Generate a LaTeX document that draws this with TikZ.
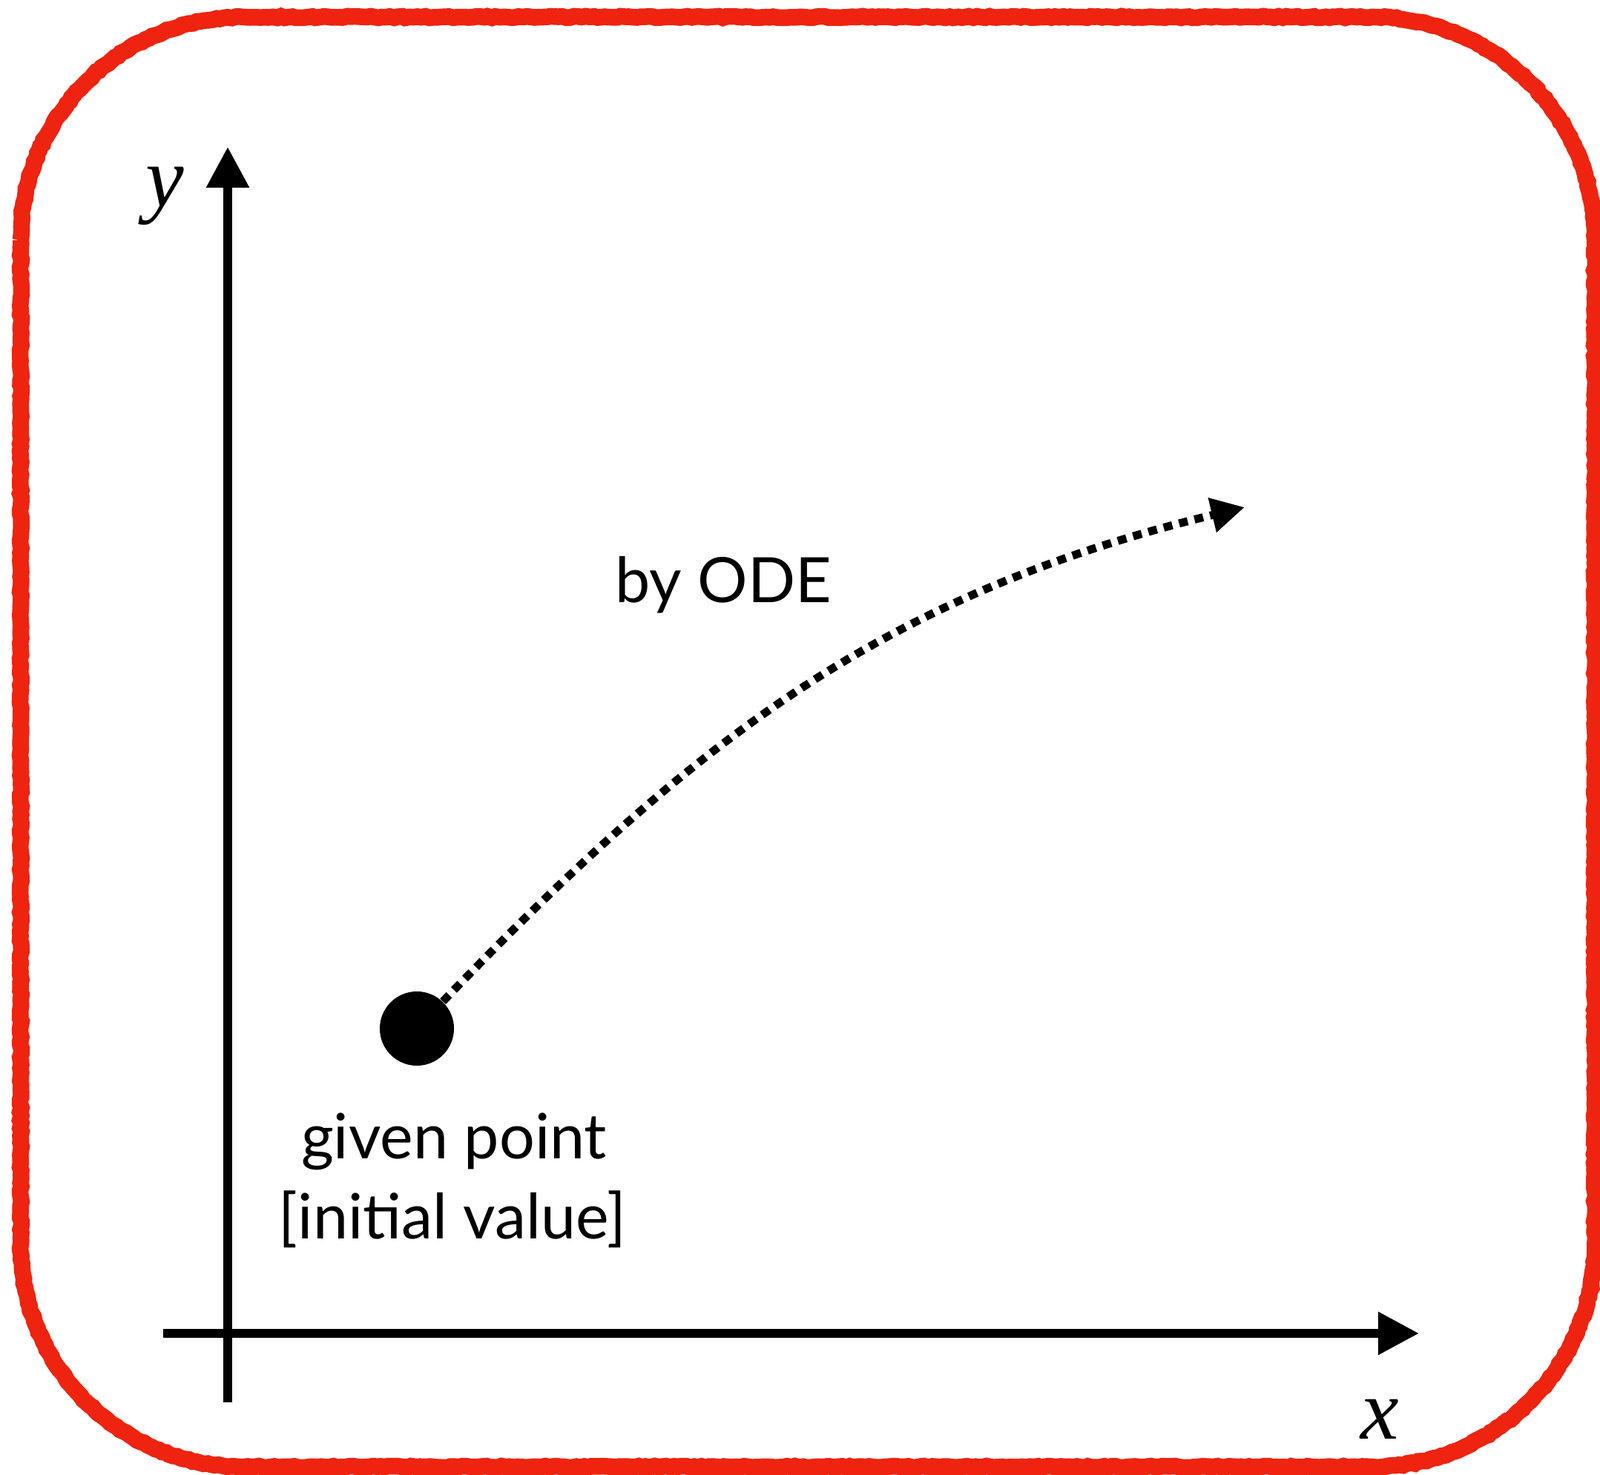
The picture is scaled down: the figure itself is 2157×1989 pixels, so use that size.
\documentclass[tikz,border=0pt]{standalone}
\usepackage{fontspec}
\setmainfont{Lato}
\newfontfamily\axisfont{Liberation Serif}
\usepackage{tikz}
\usetikzlibrary{positioning,calc,arrows.meta,decorations.pathmorphing}
\definecolor{sketchred}{RGB}{238,36,16}

\begin{document}
\begin{tikzpicture}[
  x=0.01cm, y=-0.01cm,
  frame/.style={draw=sketchred, line width=6.4pt},
  rough/.style={decoration={random steps, segment length=1.5pt, amplitude=0.3pt}},
  axis/.style={-{Triangle[length=0.55cm, width=0.55cm]}, line width=3.4pt, black},
  flow/.style={-{Triangle[length=0.45cm, width=0.45cm]}, line width=3.1pt, black,
    dash pattern=on 3.4pt off 2.7pt},
  dot/.style={circle, fill=black, minimum size=1cm, inner sep=0pt},
  lbl/.style={font=\fontsize{24}{30}\selectfont, anchor=base, align=center},
  var/.style={font=\fontsize{33}{33}\axisfont\itshape, anchor=base}
]
\useasboundingbox (0,0) rectangle (2157,1989);
\draw[frame] decorate[rough] {[rounded corners=3cm] (28,23) rectangle (2150,1978)};

% axes
\coordinate (xfrom) at (220,1798);
\coordinate (xto) at (1913,1798);
\coordinate (yfrom) at (307,1891);
\coordinate (yto) at (307,198);
\draw[axis] (xfrom) -- (xto);
\draw[axis] (yfrom) -- (yto);
\node[var] (xlabel) at (1860,1940) {x};
\node[var] (ylabel) at (222,279) {y};

% initial value and its trajectory
\node[dot] (start) at (562,1387) {};
\coordinate (tip) at (1678,684);
\draw[flow] (start) .. controls (943,990) and (1198,800) .. (tip);

\node[lbl] (ode) at (975,813) {by ODE};
\node[lbl] (given) at (612,1562) {given point};
\node[lbl] (initial) at (610,1670) {[initial value]};
\end{tikzpicture}
\end{document}
